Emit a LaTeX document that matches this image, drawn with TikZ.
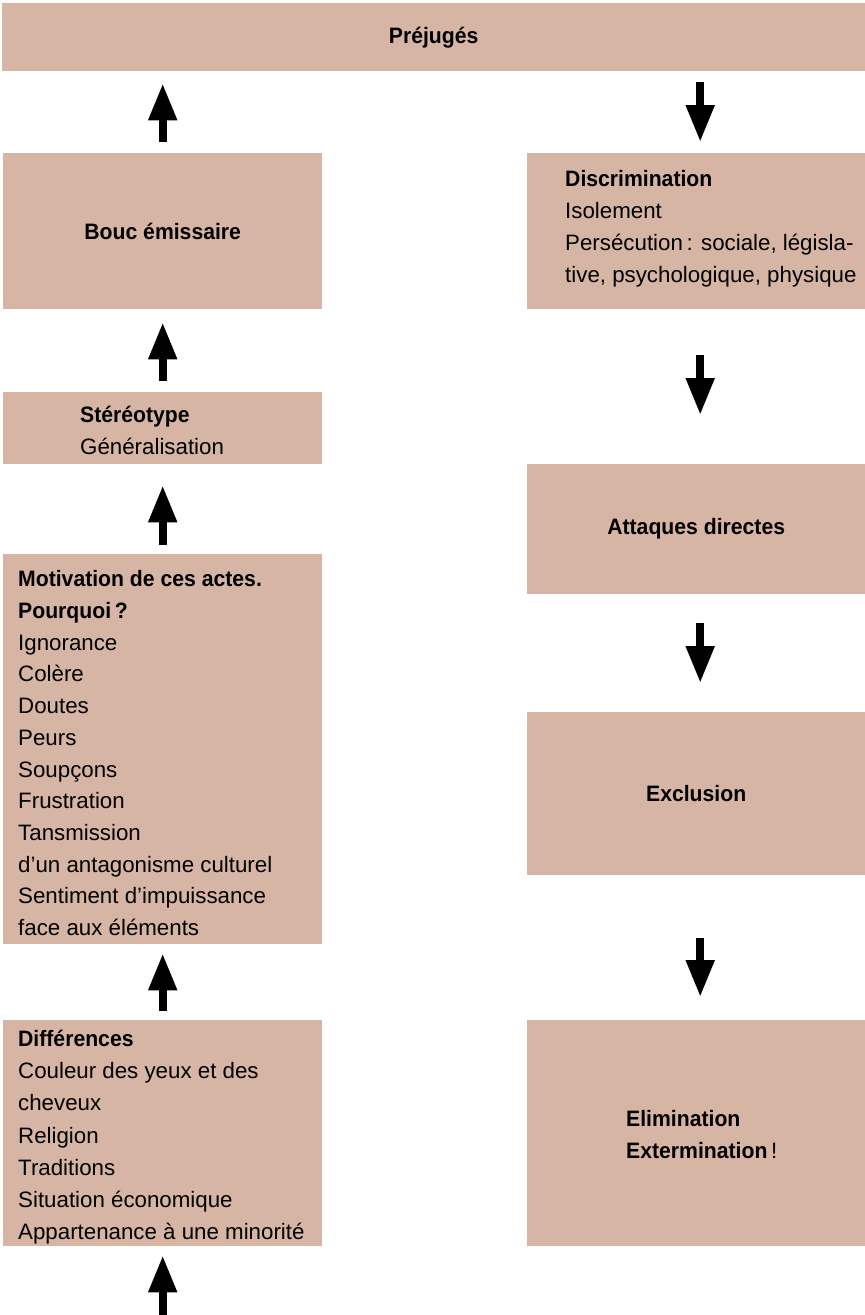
\documentclass[tikz,border=0pt]{standalone}
\usepackage{fontspec}
\setmainfont{Liberation Sans}[BoldFeatures={FakeStretch=0.95}]
\usetikzlibrary{arrows.meta}
\definecolor{boxfill}{RGB}{215,181,165}

\begin{document}
\begin{tikzpicture}[x=1pt,y=-1pt,
  basefont/.style={font=\fontsize{22.3}{31.7}\selectfont},
  box/.style={fill=boxfill, draw=none, inner sep=0pt, anchor=north west,
    font=\fontsize{22.3}{31.7}\selectfont\bfseries},
  txt/.style={inner sep=0pt, anchor=base west, align=left, basefont},
  flow/.style={line width=8pt, -{Triangle[width=27pt,length=37pt]}}]

\useasboundingbox (0,0) rectangle (865,1315);

% boxes
\node[box, minimum width=863pt, minimum height=68pt]  (prej)   at (2,3)     {Préjugés};
\node[box, minimum width=319pt, minimum height=156pt] (bouc)   at (3,153)   {Bouc émissaire};
\node[box, minimum width=319pt, minimum height=72pt]  (stereo) at (3,392)   {};
\node[box, minimum width=319pt, minimum height=390pt] (motiv)  at (3,554)   {};
\node[box, minimum width=319pt, minimum height=226pt] (diff)   at (3,1020)  {};
\node[box, minimum width=338pt, minimum height=156pt] (disc)   at (527,153) {};
\node[box, minimum width=338pt, minimum height=130pt] (att)    at (527,464) {Attaques directes};
\node[box, minimum width=338pt, minimum height=163pt] (excl)   at (527,712) {Exclusion};
\node[box, minimum width=338pt, minimum height=226pt] (elim)   at (527,1020) {};

% box texts (anchored at the baseline of their last line)
\node[txt] (stereoT) at (80,454) {\textbf{Stéréotype}\\Généralisation};
\node[txt, font=\fontsize{22.3}{32}\selectfont] (discT) at (565,282)
  {\textbf{Discrimination}\\Isolement\\Persécution\,: sociale, législa-\\tive, psychologique, physique};
\node[txt] (motivT) at (18,935.5)
  {\textbf{Motivation de ces actes.}\\\textbf{Pourquoi\,?}\\Ignorance\\Colère\\Doutes\\Peurs\\Soupçons\\Frustration\\Tansmission\\d’un antagonisme culturel\\Sentiment d’impuissance\\face aux éléments};
\node[txt, font=\fontsize{22.3}{32.2}\selectfont] (diffT) at (18,1239.7)
  {\textbf{Différences}\\Couleur des yeux et des\\cheveux\\Religion\\Traditions\\Situation économique\\Appartenance à une minorité};
\node[txt] (elimT) at (626,1158) {\textbf{Elimination}\\\textbf{Extermination}\,!};

% helper points for the right column arrows
\coordinate (dtop) at ([xshift=4pt]disc.north);
\coordinate (dbot) at ([xshift=4pt]disc.south);
\coordinate (atop) at ([xshift=4pt]att.north);
\coordinate (abot) at ([xshift=4pt]att.south);
\coordinate (xtop) at ([xshift=4pt]excl.north);
\coordinate (xbot) at ([xshift=4pt]excl.south);
\coordinate (etop) at ([xshift=4pt]elim.north);
\coordinate (start) at (diff.south |- 0,1315);

% left column: upward chain
\draw[flow, shorten <=11pt, shorten >=12pt] (bouc.north) -- (bouc.north |- prej.south);
\draw[flow, shorten <=11pt, shorten >=13pt] (stereo.north) -- (bouc.south);
\draw[flow, shorten <=9pt, shorten >=21pt] (motiv.north) -- (stereo.south);
\draw[flow, shorten <=9pt, shorten >=9pt] (diff.north) -- (motiv.south);
\draw[flow, shorten >=9pt] (start) -- (diff.south);

% right column: downward chain
\draw[flow, shorten <=11pt, shorten >=11pt] (dtop |- prej.south) -- (dtop);
\draw[flow, shorten <=46pt, shorten >=49pt] (dbot) -- (atop);
\draw[flow, shorten <=29pt, shorten >=29pt] (abot) -- (xtop);
\draw[flow, shorten <=63pt, shorten >=23pt] (xbot) -- (etop);
\end{tikzpicture}
\end{document}
